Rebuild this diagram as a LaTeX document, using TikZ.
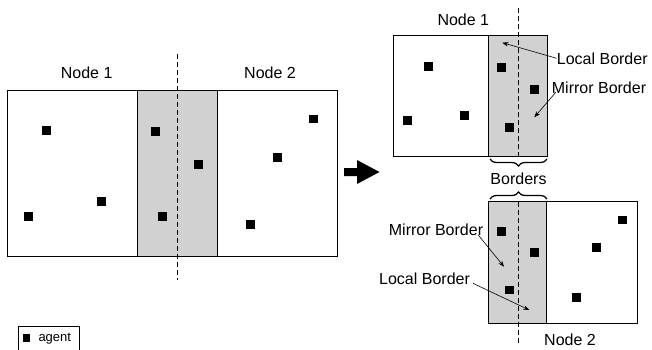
\documentclass[tikz,border=0pt]{standalone}
\usepackage{fontspec}
\setmainfont{Liberation Sans}
\usetikzlibrary{arrows.meta,decorations.pathreplacing}

\begin{document}
\begin{tikzpicture}[x=1pt,y=-1pt,
  agent/.style={fill=black,inner sep=0pt,minimum size=8.5pt},
  region/.style={draw=black,line width=0.8pt},
  border/.style={fill=black!18,draw=black,line width=0.8pt},
  cut/.style={dash pattern=on 5pt off 3pt,line width=0.8pt},
  lbl/.style={font=\fontsize{16}{19}\selectfont,inner sep=0pt},
  pointer/.style={-{Stealth[length=6pt,width=4.5pt]},line width=0.6pt},
  bracket/.style={decorate,decoration={brace,amplitude=7pt},line width=1.3pt}]
\useasboundingbox (0,0) rectangle (652,349);

% before the split
\draw[region] (7.5,90.5) rectangle (337,256);
\draw[border] (137.5,90.5) rectangle (217.5,256);
\draw[cut] (177.7,54) -- (177.7,280);
\node[lbl] (left1) at (86.7,73) {Node 1};
\node[lbl] (left2) at (270,73) {Node 2};
\foreach \x/\y [count=\i] in {46.3/130.3, 28.3/216.3, 101.3/201.3, 155.3/131.3,
    198.3/164.3, 162.3/216.3, 313.3/119, 277.3/157.3, 250.3/224.3}
  \node[agent] (a\i) at (\x,\y) {};

% split arrow
\fill (344,168) -- (357,168) -- (357,160) -- (379.5,172) -- (357,184)
  -- (357,176) -- (344,176) -- cycle;

% node 1 after the split
\draw[region] (393.3,35.7) rectangle (547,156);
\draw[border] (488.3,35.7) rectangle (547,156);
\draw[cut] (518.3,8) -- (518.3,156);
\node[lbl] (top1) at (463.3,20) {Node 1};
\foreach \x/\y [count=\i] in {428.3/66.3, 407.3/120.3, 464.3/115.3,
    501.3/67.3, 534.3/89.3, 509.3/127.3}
  \node[agent] (b\i) at (\x,\y) {};
\node[lbl,anchor=west] (local1) at (556.7,58.3) {Local Border};
\node[lbl,anchor=west] (mirror1) at (551.7,87.3) {Mirror Border};
\coordinate (localtip1) at (502.3,42.7);
\coordinate (mirrortip1) at (534.3,117.3);
\draw[pointer] (local1.west) -- (localtip1);
\draw[pointer] ([xshift=4pt,yshift=1pt]mirror1.south west) -- (mirrortip1);

% borders
\draw[bracket] (547,159) -- (490,159);
\draw[bracket] (490,199) -- (547,199);
\node[lbl] (borders) at (518.5,178.5) {Borders};

% node 2 after the split
\draw[region] (488.3,201.7) rectangle (637.3,323.3);
\draw[border] (488.3,201.7) rectangle (546.7,323.3);
\draw[cut] (518.7,201.7) -- (518.7,343);
\node[lbl] (bot2) at (570,340) {Node 2};
\foreach \x/\y [count=\i] in {501.3/231.3, 534.3/252.3, 509.3/290,
    622.3/220, 596.3/247.3, 576.3/297.3}
  \node[agent] (c\i) at (\x,\y) {};
\node[lbl,anchor=east] (mirror2) at (483.3,230) {Mirror Border};
\node[lbl,anchor=west] (local2) at (379,278.3) {Local Border};
\coordinate (mirrortip2) at (504,266.7);
\coordinate (localtip2) at (529.3,310);
\draw[pointer] ([xshift=-5pt,yshift=1pt]mirror2.south east) -- (mirrortip2);
\draw[pointer] ([xshift=3pt,yshift=1pt]local2.south east) -- (localtip2);

% legend
\draw[line width=0.6pt] (18.3,352) |- (79.3,326.7) -- (79.3,352);
\node[fill=black,inner sep=0pt,minimum size=7.5pt] (key) at (26.3,338) {};
\node[font=\fontsize{13}{15}\selectfont,inner sep=0pt,anchor=base west] (keytext) at (38.3,341.7) {agent};
\end{tikzpicture}
\end{document}
